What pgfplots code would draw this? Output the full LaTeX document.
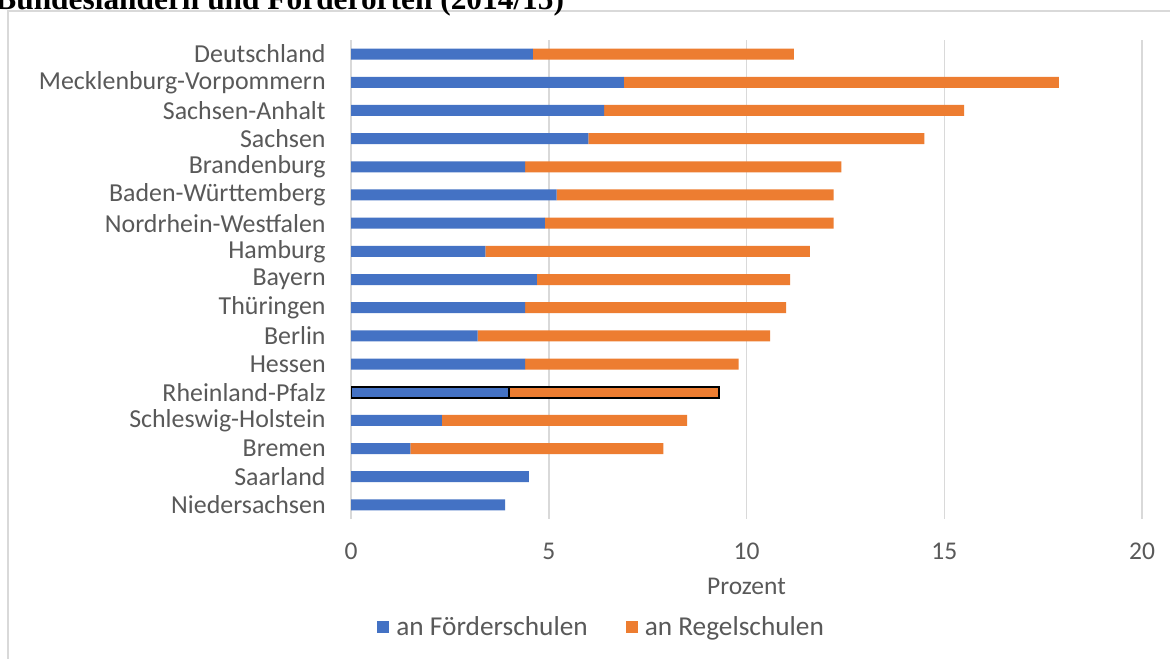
\documentclass[border=0pt]{standalone}
\usepackage{pgfplots}
\pgfplotsset{compat=1.18}
\usepackage{fontspec}
\setmainfont{Carlito}
\newfontfamily\titlefont{Liberation Serif}
\definecolor{txt}{HTML}{595959}
\definecolor{gridc}{HTML}{D9D9D9}
\definecolor{cblue}{HTML}{4472C4}
\definecolor{corange}{HTML}{ED7D31}
\pgfplotsset{base/.style={
  at={(175.5bp,-259.5bp)}, anchor=south west,
  width=395.5bp, height=239.5bp, scale only axis,
  xmin=0, xmax=20, ymin=-0.5, ymax=16.5, y dir=reverse,
  xbar stacked, bar width=5.5bp,
}}
\begin{document}
\begin{tikzpicture}
\clip (0,0) rectangle (585bp,-329.5bp);
\fill[white] (0,0) rectangle (585bp,-329.5bp);
\begin{scope}[x=0.5bp,y=-0.5bp]
\draw[gridc, line width=1bp] (8,700) -- (8,11) -- (1300,11);
\node[anchor=base west, inner sep=0pt, font=\titlefont\bfseries\fontsize{15.75}{18}\selectfont] at (-5,9.5) {Bundesländern und Förderorten (2014/15)};
\end{scope}
\begin{axis}[base,
  axis line style={draw=none},
  tick style={draw=none}, major tick length=0pt,
  xmajorgrids, major grid style={gridc, line width=0.75bp},
  xtick={0,5,10,15,20},
  ytick={0,...,16},
  yticklabels={Deutschland,Mecklenburg-Vorpommern,Sachsen-Anhalt,Sachsen,Brandenburg,Baden-Württemberg,Nordrhein-Westfalen,Hamburg,Bayern,Thüringen,Berlin,Hessen,Rheinland-Pfalz,Schleswig-Holstein,Bremen,Saarland,Niedersachsen},
  /pgf/number format/assume math mode=true,
  ticklabel style={font=\fontsize{12.8}{14}\selectfont, text=txt, inner sep=0pt},
  yticklabel style={anchor=east, xshift=-12.5bp, font=\fontsize{13}{14}\selectfont},
  xticklabel style={anchor=north, yshift=-11.75bp},
  xlabel={Prozent},
  xlabel style={at={(axis description cs:0.5,0)}, anchor=north, yshift=-29.5bp, inner sep=0pt, font=\fontsize{12.8}{14}\selectfont, text=txt},
  legend style={at={(axis description cs:0.0329,-0.2255)}, anchor=west, draw=none, fill=none,
    legend columns=2, font=\fontsize{13.7}{15}\selectfont, text=txt,
    nodes={inner sep=0pt, anchor=west}, inner sep=0pt,
    /tikz/every odd column/.append style={column sep=3.5bp},
    /tikz/every even column/.append style={column sep=19bp}},
  legend image code/.code={\fill[#1] (0bp,-3bp) rectangle (6bp,3bp);},
]
\addplot[fill=cblue, draw=none] coordinates {
(4.6,0) (6.9,1) (6.4,2) (6.0,3) (4.4,4) (5.2,5) (4.9,6) (3.4,7) (4.7,8)
(4.4,9) (3.2,10) (4.4,11) (4.0,12) (2.3,13) (1.5,14) (4.5,15) (3.9,16)};
\addlegendentry{an Förderschulen}
\addplot[fill=corange, draw=none] coordinates {
(6.6,0) (11.0,1) (9.1,2) (8.5,3) (8.0,4) (7.0,5) (7.3,6) (8.2,7) (6.4,8)
(6.6,9) (7.4,10) (5.4,11) (5.3,12) (6.2,13) (6.4,14) (0,15) (0,16)};
\addlegendentry{an Regelschulen}
\end{axis}
\begin{axis}[base, hide axis]
\addplot[fill=cblue, draw=black, line width=1.2bp] coordinates {(4.0,12)};
\addplot[fill=corange, draw=black, line width=1.2bp] coordinates {(5.3,12)};
\end{axis}
\end{tikzpicture}
\end{document}
